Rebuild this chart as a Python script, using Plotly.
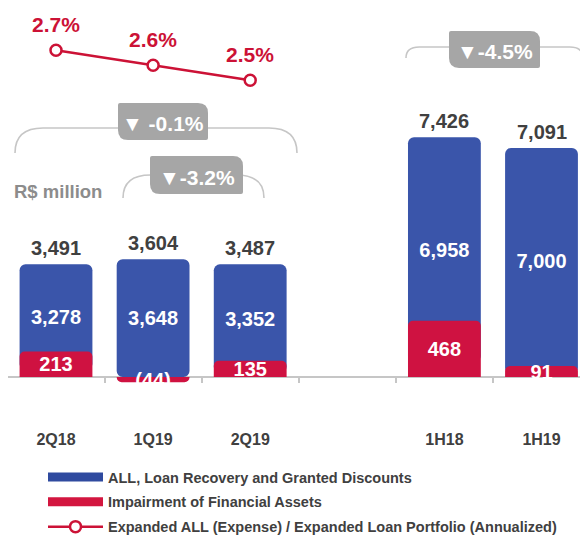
import plotly.graph_objects as go

# ---------------- data ----------------
categories = ["2Q18", "1Q19", "2Q19", "1H18", "1H19"]
all_values = [3278, 3648, 3352, 6958, 7000]          # ALL, Loan Recovery and Granted Discounts
impairment = [213, -44, 135, 468, 91]                 # Impairment of Financial Assets
totals = [3491, 3604, 3487, 7426, 7091]
ratio_categories = ["2Q18", "1Q19", "2Q19"]
ratio_values = [2.7, 2.6, 2.5]                        # Expanded ALL / Expanded Loan Portfolio (%)
comparison_labels = ["▼ -0.1%", "▼-3.2%", "▼-4.5%"]
series_names = [
    "ALL, Loan Recovery and Granted Discounts",
    "Impairment of Financial Assets",
    "Expanded ALL (Expense) / Expanded Loan Portfolio (Annualized)",
]

# ---------------- layout constants (page pixels) ----------------
OFF = 8                          # default body margin of the page
W, H = 588 - OFF, 538 - OFF
ML, MR, MT = 0, 0, 0
PLOT_H = 430
MB = H - MT - PLOT_H
PLOT_W = W - ML - MR
ZERO_PX = 377                    # page row of the zero line
K_MAIN = 0.0323                  # px per R$ million (main bars)
K_RED = 0.12                     # px per R$ million (impairment, exaggerated axis)
SLOT = 97.1                      # px per category slot
FIRST_CENTER = 56                # page x of first category centre
FONT = "Liberation Sans, Arial, Helvetica, sans-serif"

BLUE = "#3a55aa"
RED = "#cf1241"
LINE_RED = "#cc1236"
DARK = "#404040"
GREY_BOX = "#a6a6a6"
BRACKET = "#c6c6c6"

zero_fig = ZERO_PX - OFF
zero_from_bottom = PLOT_H - zero_fig
y_range = [-zero_from_bottom / K_MAIN, zero_fig / K_MAIN]
y2_range = [-zero_from_bottom / K_RED, zero_fig / K_RED]
# line axis: 2.6 at page row 65, 150px per percentage point
p26 = 65.3 - OFF
y3_range = [2.6 - (PLOT_H - p26) / 150.0, 2.6 + p26 / 150.0]
x_min = -(FIRST_CENTER - OFF - ML) / SLOT
x_range = [x_min, x_min + PLOT_W / SLOT]

slots = categories[:3] + [" "] + categories[3:]


def fx(px):
    return (px - OFF - ML) / PLOT_W


def fy(py):
    return (MT + PLOT_H - (py - OFF)) / PLOT_H


def fmt(v):
    return f"({abs(v):,})" if v < 0 else f"{v:,}"


blue_base = [max(r, 0) for r in impairment]
blue_top = [b + v for b, v in zip(blue_base, all_values)]

fig = go.Figure()

fig.add_trace(go.Bar(
    x=categories, y=all_values, base=blue_base, width=0.75,
    marker=dict(color=BLUE, cornerradius=6, line=dict(width=0)),
    text=[fmt(v) for v in all_values], textposition="inside",
    insidetextanchor="middle", textangle=0,
    textfont=dict(family=FONT, size=20, color="white", weight="bold"),
    showlegend=False, hoverinfo="skip", yaxis="y",
))

fig.add_trace(go.Bar(
    x=categories, y=impairment, width=0.75,
    marker=dict(color=RED, cornerradius=5, line=dict(width=0)),
    text=[fmt(v) for v in impairment], textposition="inside",
    insidetextanchor="middle", textangle=0,
    textfont=dict(family=FONT, size=20, color="white", weight="bold"),
    showlegend=False, hoverinfo="skip", yaxis="y2",
))

# legend swatches
fig.add_trace(go.Scatter(x=[None], y=[None], mode="lines",
                         line=dict(color="#2f4a9f", width=9),
                         name=series_names[0], legendgroup="a", legendrank=1))
fig.add_trace(go.Scatter(x=[None], y=[None], mode="lines",
                         line=dict(color="#d3163f", width=9),
                         name=series_names[1], legendgroup="b", legendrank=2))

fig.add_trace(go.Scatter(
    x=ratio_categories, y=ratio_values, mode="lines+markers", yaxis="y3",
    line=dict(color=LINE_RED, width=2.5),
    marker=dict(symbol="circle", size=11, color="white",
                line=dict(color=LINE_RED, width=2.5)),
    name=series_names[2], legendgroup="c", legendrank=3, hoverinfo="skip",
))

annotations = []
for cat, top, tot in zip(categories, blue_top, totals):
    annotations.append(dict(x=cat, y=top, xref="x", yref="y", text=f"{tot:,}",
                            showarrow=False, yanchor="bottom", yshift=3,
                            font=dict(family=FONT, size=20, color=DARK, weight="bold")))
for cat, v in zip(ratio_categories, ratio_values):
    annotations.append(dict(x=cat, y=v, xref="x", yref="y3", text=f"{v:.1f}%",
                            showarrow=False, yanchor="middle", yshift=26,
                            font=dict(family=FONT, size=21, color=LINE_RED, weight="bold")))

annotations.append(dict(x=fx(12), y=fy(191), xref="paper", yref="paper",
                        text="R$ million", showarrow=False, xanchor="left", yanchor="middle",
                        font=dict(family=FONT, size=18.5, color="#8c8c8c", weight="bold")))

# comparison brackets + badges (page pixel geometry)
brackets = [
    dict(l=15, r=297, yb=153, yt=128, box=(118, 103, 208, 140)),
    dict(l=123, r=264, yb=198, yt=175, box=(150, 156, 243, 194)),
    dict(l=406, r=583, yb=58, yt=47, box=(449, 31, 540, 68)),
]


def P(px, py):
    return f"{fx(px):.5f},{fy(py):.5f}"


shapes = []
for b, label in zip(brackets, comparison_labels):
    l, r, yb, yt = b["l"], b["r"], b["yb"], b["yt"]
    rr = min(28, (yb - yt) * 1.2)
    path = (f"M{P(l, yb)} C{P(l, yt + (yb - yt) * 0.25)} {P(l + rr * 0.45, yt)} {P(l + rr, yt)} "
            f"L{P(r - rr, yt)} C{P(r - rr * 0.45, yt)} {P(r, yt + (yb - yt) * 0.25)} {P(r, yb)}")
    shapes.append(dict(type="path", xref="paper", yref="paper", path=path,
                       line=dict(color=BRACKET, width=1.6), layer="above"))
    x0, y0, x1, y1 = b["box"]
    rb, rs = 10, 2
    box = (f"M{P(x0 + rs, y0)} L{P(x1 - rb, y0)} Q{P(x1, y0)} {P(x1, y0 + rb)} "
           f"L{P(x1, y1 - rs)} Q{P(x1, y1)} {P(x1 - rs, y1)} "
           f"L{P(x0 + rb, y1)} Q{P(x0, y1)} {P(x0, y1 - rb)} "
           f"L{P(x0, y0 + rs)} Q{P(x0, y0)} {P(x0 + rs, y0)} Z")
    shapes.append(dict(type="path", xref="paper", yref="paper", path=box,
                       fillcolor=GREY_BOX, line=dict(width=0), layer="above"))
    annotations.append(dict(x=fx((x0 + x1) / 2), y=fy((y0 + y1) / 2 + 2), xref="paper", yref="paper",
                            text=label, showarrow=False, xanchor="center", yanchor="middle",
                            font=dict(family=FONT, size=21, color="white", weight="bold")))

fig.update_layout(
    width=W, height=H,
    margin=dict(l=ML, r=MR, t=MT, b=MB, pad=0, autoexpand=False),
    paper_bgcolor="white", plot_bgcolor="white",
    barmode="overlay",
    font=dict(family=FONT, color=DARK),
    uniformtext=dict(minsize=20, mode="show"),
    xaxis=dict(type="category", categoryorder="array", categoryarray=slots,
               range=x_range, anchor="free", position=zero_from_bottom / PLOT_H,
               showline=False, showgrid=False, zeroline=False, automargin=False,
               ticks="outside", tickson="boundaries", ticklen=5, tickwidth=1.5,
               tickcolor=BRACKET, ticklabelstandoff=51,
               tickfont=dict(family=FONT, size=16, color=DARK, weight="bold")),
    yaxis=dict(range=y_range, showgrid=False, showticklabels=False, ticks="",
               zeroline=True, zerolinecolor=BRACKET, zerolinewidth=1.5, showline=False,
               automargin=False),
    yaxis2=dict(range=y2_range, overlaying="y", visible=False, showgrid=False, zeroline=False),
    yaxis3=dict(range=y3_range, overlaying="y", visible=False, showgrid=False, zeroline=False),
    legend=dict(orientation="v", x=fx(43), y=fy(461), xanchor="left", yanchor="top",
                itemwidth=55, tracegroupgap=3, traceorder="grouped",
                font=dict(family=FONT, size=14.5, color=DARK, weight="bold"),
                bgcolor="rgba(0,0,0,0)"),
    showlegend=True,
    annotations=annotations,
    shapes=shapes,
)

fig.write_html("out.html")
